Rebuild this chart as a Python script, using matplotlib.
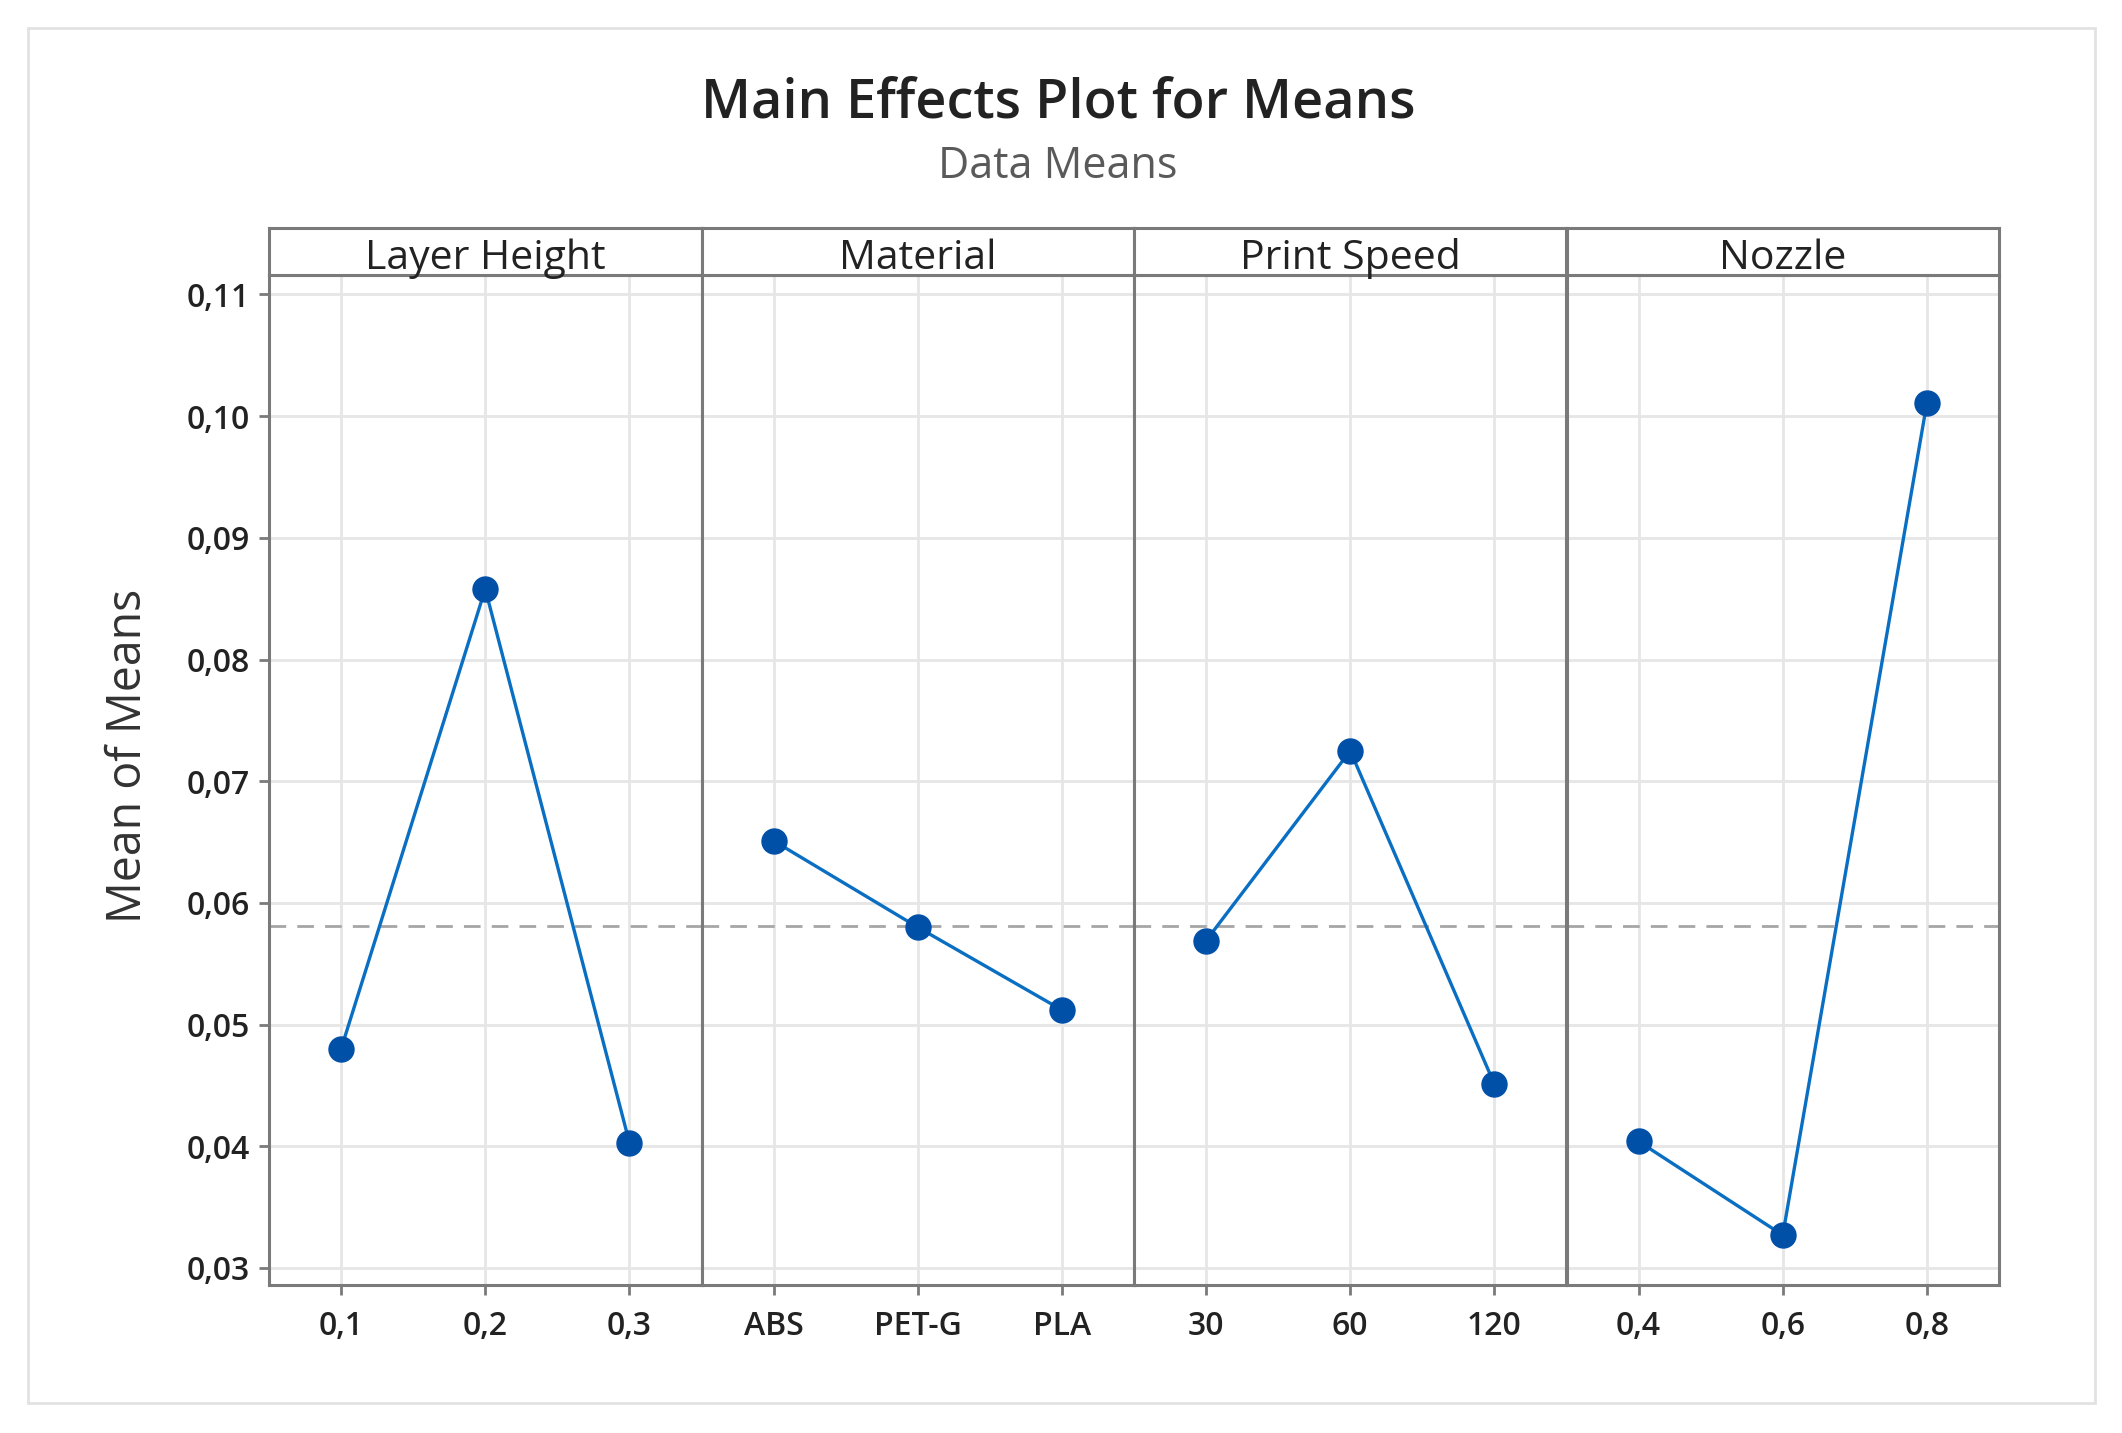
import numpy as np
import matplotlib.pyplot as plt
from matplotlib.patches import Rectangle

# data
factors = ['Layer Height', 'Material', 'Print Speed', 'Nozzle']
layer_levels = ['0,1', '0,2', '0,3']
layer_means = [0.0480, 0.0858, 0.0403]
material_levels = ['ABS', 'PET-G', 'PLA']
material_means = [0.0651, 0.0580, 0.0512]
speed_levels = ['30', '60', '120']
speed_means = [0.0569, 0.0725, 0.0451]
nozzle_levels = ['0,4', '0,6', '0,8']
nozzle_means = [0.0404, 0.0327, 0.1011]
grand_mean = 0.0581

y_ticks = [0.03, 0.04, 0.05, 0.06, 0.07, 0.08, 0.09, 0.10, 0.11]
y_labels = ['0,03', '0,04', '0,05', '0,06', '0,07', '0,08', '0,09', '0,10', '0,11']

levels = [layer_levels, material_levels, speed_levels, nozzle_levels]
means = [layer_means, material_means, speed_means, nozzle_means]

plt.rcParams['font.family'] = ['Open Sans', 'DejaVu Sans']

W, H = 2122, 1433
fig = plt.figure(figsize=(W / 100, H / 100), dpi=100)

# outer light frame
fig.patches.append(Rectangle((28 / W, 1 - 1403 / H), (2095 - 28) / W, (1403 - 28) / H,
                             transform=fig.transFigure, fill=False,
                             edgecolor='#e2e2e2', lw=2))

# layout in pixels
left, right = 269, 1999
top, bottom = 275, 1285
strip_top = 228
pw = (right - left) / 4

spine_col = '#7a7a7a'
line_col = '#0a6fc2'
mark_col = '#0050a8'

for i in range(4):
    x0 = left + i * pw
    ax = fig.add_axes([x0 / W, 1 - bottom / H, pw / W, (bottom - top) / H])
    xs = np.arange(len(levels[i]))
    ax.plot(xs, means[i], color=line_col, lw=2.4, zorder=3)
    ax.plot(xs, means[i], 'o', color=mark_col, ms=18, zorder=4)
    ax.axhline(grand_mean, color='#a6a6a6', lw=2, ls=(0, (6, 4)), zorder=2)
    ax.set_xlim(-0.5, 2.5)
    ax.set_ylim(0.0286, 0.1116)
    ax.set_xticks(xs)
    ax.set_xticklabels(levels[i])
    ax.set_yticks(y_ticks)
    ax.grid(color='#e6e6e6', lw=2)
    ax.set_axisbelow(True)
    for s in ax.spines.values():
        s.set_color(spine_col)
        s.set_linewidth(2.2)
    ax.tick_params(axis='x', length=7, width=2, color=spine_col, pad=11,
                   labelsize=23, labelcolor='#222222')
    if i == 0:
        ax.set_yticklabels(y_labels)
        ax.tick_params(axis='y', length=7, width=2, color=spine_col, pad=7,
                       labelsize=23, labelcolor='#222222')
    else:
        ax.tick_params(axis='y', length=0, labelleft=False)
    for lab in ax.get_xticklabels() + ax.get_yticklabels():
        lab.set_fontweight('semibold')

    # strip header
    sax = fig.add_axes([x0 / W, 1 - top / H, pw / W, (top - strip_top) / H])
    sax.set_xticks([])
    sax.set_yticks([])
    for s in sax.spines.values():
        s.set_color(spine_col)
        s.set_linewidth(2.2)
    fig.text((x0 + pw / 2) / W, 1 - 269 / H, factors[i], ha='center', va='baseline',
             fontsize=29.5, color='#222222')

fig.text(1058 / W, 1 - 118 / H, 'Main Effects Plot for Means', ha='center',
         va='baseline', fontsize=39, fontweight='semibold', color='#222222')
fig.text(1058 / W, 1 - 178 / H, 'Data Means', ha='center', va='baseline',
         fontsize=31, color='#5a5a5a')
fig.text(128 / W, 1 - 756 / H, 'Mean of Means', ha='center', va='center',
         rotation=90, fontsize=33.5, color='#333333')

fig.savefig('out.png', dpi=100)
